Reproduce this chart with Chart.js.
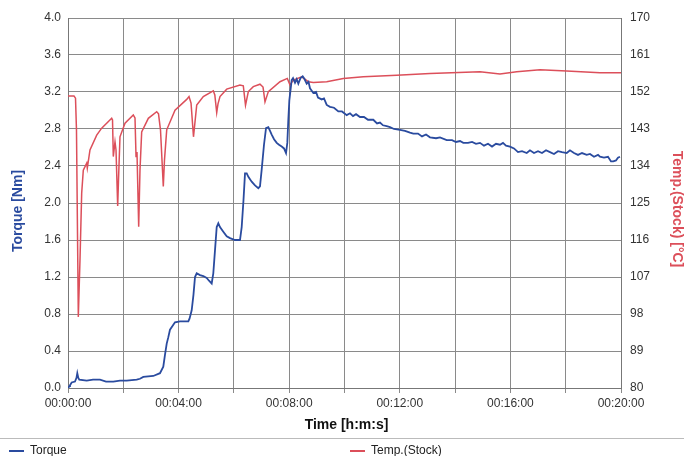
<!DOCTYPE html>
<html>
<head>
<meta charset="utf-8">
<script src="https://cdn.jsdelivr.net/npm/chart.js@4/dist/chart.umd.min.js"></script>
<style>
  html, body { margin: 0; padding: 0; background: #fff; }
  #wrap { position: relative; width: 684px; height: 456px; }
  #legend { position: absolute; left: 0; top: 438px; width: 684px; border-top: 1px solid #bbb;
            font: 12px "Liberation Sans", Arial, sans-serif; color: #222; }
  .item { position: absolute; top: 4px; white-space: nowrap; }
  .item i { display: inline-block; width: 15px; height: 2px; vertical-align: middle; margin-right: 6px; }
</style>
</head>
<body>
<div id="wrap">
  <canvas id="myChart" width="684" height="456"></canvas>
  <div id="legend">
    <div class="item" style="left:9px"><i style="background:#2a4b9f"></i>Torque</div>
    <div class="item" style="left:350px"><i style="background:#dc4f5a"></i>Temp.(Stock)</div>
  </div>
</div>
<script>
// time axis in seconds (0 .. 20 min)
const timeTicks = [0, 240, 480, 720, 960, 1200];

// stock temperature, °C
const tempTime = [0, 13, 16.3, 18.4, 22.4, 26, 29.7, 33.2, 40.6, 41.9, 47.7, 62.3, 73.1, 94.8, 96.6, 98.3,
  102, 104.2, 107.8, 109.6, 112.8, 123.7, 141.7, 145.4, 147.6, 149.7, 153.4, 156.2, 159.9, 174.3, 192.5,
  196.4, 200.7, 206.8, 209.4, 214.2, 232.2, 257.6, 262.6, 267, 272.3, 279.3, 293.6, 315.3, 318.6, 322.7,
  325.5, 329.8, 344.4, 373.2, 380.4, 385.2, 391.3, 402.1, 416.6, 423.2, 427.5, 434.7, 460, 475.9, 481.7,
  488.9, 507.1, 521.5, 532.3, 561.4, 597.4, 640.8, 713.3, 785.5, 894, 937.4, 973.7, 1024.2, 1082.2,
  1154.4, 1200];
const tempValues = [151.0, 151.0, 150.5, 142.8, 97.3, 111.1, 127.4, 133.0, 134.7, 133.5, 137.9, 141.5,
  143.2, 145.6, 145.2, 136.3, 139.9, 137.9, 124.3, 130.6, 141.1, 144.4, 146.4, 145.7, 136.3, 137.4, 119.2,
  133.0, 142.3, 145.6, 147.2, 146.7, 142.8, 129.0, 135.5, 142.8, 147.6, 150.2, 150.9, 149.3, 141.1, 148.8,
  150.9, 152.3, 151.3, 147.0, 149.1, 150.9, 152.7, 153.7, 153.5, 148.8, 152.1, 153.3, 153.9, 153.2, 149.6,
  152.1, 154.5, 155.3, 153.7, 154.9, 155.7, 154.5, 154.3, 154.5, 155.3, 155.7, 156.1, 156.5, 156.9, 156.4,
  156.9, 157.4, 157.1, 156.7, 156.7];

// torque, Nm
const torqueTime = [0, 3.3, 4.3, 8, 15.2, 18.4, 20.2, 22.4, 24.5, 40.6, 54.3, 69.4, 82.5, 98.3, 112.8,
  127.4, 149.1, 156.2, 163.4, 185.1, 199.6, 206.8, 210.5, 214.2, 217.7, 221.3, 232.2, 243, 253.9, 261.1,
  263.7, 268.4, 272.3, 275.6, 279.3, 286.4, 293.6, 301, 306, 311.8, 315.3, 319, 322.7, 326.2, 329.8, 337,
  344.4, 351.5, 362.4, 373.2, 376.9, 380.8, 384.1, 387.8, 391.7, 398.6, 405.8, 413, 416.6, 420.3, 425.3,
  429.7, 434.7, 438.4, 442, 447.1, 452.9, 457.9, 463.7, 468.7, 473.1, 475.9, 478.1, 480.3, 485.4, 488.3,
  492.6, 496.3, 499.8, 504.5, 509.3, 513.2, 518, 521.9, 525.1, 532.3, 538.2, 542.5, 550.5, 555.5, 561.4,
  568.5, 577.2, 586.6, 594.6, 604.8, 612, 618.5, 625, 633.6, 642.3, 651, 662.5, 670.6, 677, 683.6, 691.6,
  698.7, 707.4, 720.4, 731.3, 742.1, 749.3, 759.5, 768.2, 776.9, 785.5, 798.6, 807.2, 821.8, 833.3, 842,
  850.6, 857.8, 868, 876.8, 885.4, 894, 902.7, 911.4, 920.1, 928.8, 937.4, 943.9, 950.4, 959.1, 967.8,
  976.5, 985.2, 995.4, 1002.5, 1011.2, 1019.9, 1028.6, 1037.3, 1045.9, 1054.6, 1063.3, 1072, 1082.2,
  1089.3, 1098, 1106.7, 1115.4, 1125.6, 1132.7, 1141.4, 1150.1, 1154.4, 1163.1, 1171.8, 1178.3, 1183.2,
  1189.1, 1193.4, 1197.8];
const torqueValues = [0.00, 0.02, 0.03, 0.06, 0.07, 0.11, 0.16, 0.11, 0.09, 0.08, 0.09, 0.09, 0.07, 0.07,
  0.08, 0.08, 0.09, 0.10, 0.12, 0.13, 0.16, 0.23, 0.36, 0.48, 0.55, 0.63, 0.71, 0.72, 0.72, 0.72, 0.75,
  0.84, 1.01, 1.20, 1.24, 1.22, 1.21, 1.19, 1.16, 1.13, 1.24, 1.49, 1.74, 1.78, 1.74, 1.69, 1.64, 1.62,
  1.60, 1.60, 1.74, 2.03, 2.32, 2.32, 2.28, 2.23, 2.19, 2.16, 2.18, 2.36, 2.63, 2.81, 2.82, 2.78, 2.74,
  2.69, 2.65, 2.63, 2.61, 2.59, 2.54, 2.65, 2.90, 3.11, 3.33, 3.35, 3.30, 3.34, 3.29, 3.35, 3.37, 3.34,
  3.29, 3.31, 3.24, 3.19, 3.20, 3.14, 3.12, 3.13, 3.06, 3.04, 3.03, 2.99, 2.99, 2.95, 2.97, 2.94, 2.96,
  2.93, 2.93, 2.90, 2.90, 2.86, 2.87, 2.84, 2.83, 2.82, 2.80, 2.79, 2.78, 2.76, 2.75, 2.75, 2.72, 2.74,
  2.71, 2.70, 2.71, 2.68, 2.68, 2.66, 2.67, 2.65, 2.65, 2.66, 2.64, 2.65, 2.62, 2.64, 2.61, 2.64, 2.63,
  2.65, 2.62, 2.61, 2.59, 2.55, 2.56, 2.54, 2.57, 2.54, 2.56, 2.54, 2.57, 2.55, 2.53, 2.56, 2.55, 2.54,
  2.57, 2.54, 2.52, 2.54, 2.52, 2.53, 2.50, 2.52, 2.50, 2.49, 2.50, 2.45, 2.45, 2.46, 2.49, 2.50];

const FONT = '"Liberation Sans", Arial, sans-serif';
const BLUE = '#2a4b9f';
const RED = '#dc4f5a';

function hms(sec) {
  const h = Math.floor(sec / 3600), m = Math.floor(sec / 60) % 60, s = Math.round(sec % 60);
  return [h, m, s].map(n => String(n).padStart(2, '0')).join(':');
}

// axis titles drawn around the plot box
const axisTitles = {
  id: 'axisTitles',
  afterDraw(chart) {
    const { ctx, chartArea: a } = chart;
    ctx.save();
    ctx.font = 'bold 14px ' + FONT;
    ctx.textAlign = 'center';
    ctx.textBaseline = 'middle';
    ctx.fillStyle = '#111';
    ctx.fillText('Time [h:m:s]', (a.left + a.right) / 2 + 2, 425);

    ctx.fillStyle = BLUE;
    ctx.translate(18, 211);
    ctx.rotate(-Math.PI / 2);
    ctx.fillText('Torque [Nm]', 0, 0);
    ctx.restore();

    ctx.save();
    ctx.font = 'bold 14px ' + FONT;
    ctx.textAlign = 'center';
    ctx.textBaseline = 'middle';
    ctx.fillStyle = RED;
    ctx.translate(677, 209);
    ctx.rotate(Math.PI / 2);
    ctx.fillText('Temp.(Stock) [°C]', 0, 0);
    ctx.restore();
  }
};

const toPoints = (xs, ys) => xs.map((x, i) => ({ x, y: ys[i] }));

new Chart(document.getElementById('myChart'), {
  type: 'line',
  data: {
    datasets: [
      {
        label: 'Torque',
        data: toPoints(torqueTime, torqueValues),
        yAxisID: 'y',
        borderColor: BLUE,
        borderWidth: 1.8,
        pointRadius: 0,
        tension: 0
      },
      {
        label: 'Temp.(Stock)',
        data: toPoints(tempTime, tempValues),
        yAxisID: 'y1',
        borderColor: RED,
        borderWidth: 1.5,
        pointRadius: 0,
        tension: 0
      }
    ]
  },
  options: {
    responsive: false,
    animation: false,
    layout: { padding: { top: 18, bottom: 0, left: 0, right: 0 } },
    plugins: { legend: { display: false }, tooltip: { enabled: false } },
    scales: {
      x: {
        type: 'linear',
        min: 0,
        max: 1200,
        afterBuildTicks: s => { s.ticks = []; for (let v = 0; v <= 1200; v += 120) s.ticks.push({ value: v }); },
        ticks: {
          autoSkip: false,
          maxRotation: 0,
          padding: 3,
          color: '#333',
          font: { family: FONT, size: 12 },
          callback: v => timeTicks.includes(v) ? hms(v) : ''
        },
        grid: { color: '#8a8a8a', tickLength: 5, lineWidth: 1 },
        border: { color: '#777' },
        afterFit: s => { s.height = 68; }
      },
      y: {
        position: 'left',
        min: 0,
        max: 4,
        afterBuildTicks: s => { s.ticks = []; for (let i = 0; i <= 10; i++) s.ticks.push({ value: i * 0.4 }); },
        ticks: {
          padding: 7,
          color: '#333',
          font: { family: FONT, size: 12 },
          callback: v => v.toFixed(1)
        },
        grid: { color: '#8a8a8a', drawTicks: false, lineWidth: 1 },
        border: { color: '#777' },
        afterFit: s => { s.width = 68; }
      },
      y1: {
        position: 'right',
        min: 80,
        max: 170,
        afterBuildTicks: s => { s.ticks = []; for (let i = 0; i <= 10; i++) s.ticks.push({ value: 80 + i * 9 }); },
        ticks: {
          padding: 9,
          color: '#333',
          font: { family: FONT, size: 12 }
        },
        grid: { drawOnChartArea: false, drawTicks: false },
        border: { color: '#777' },
        afterFit: s => { s.width = 63; }
      }
    }
  },
  plugins: [axisTitles]
});
</script>
</body>
</html>
